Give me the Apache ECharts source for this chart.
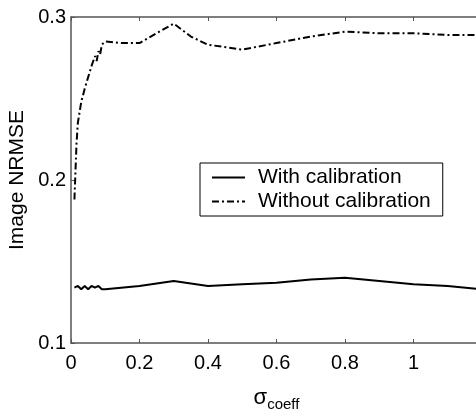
<!DOCTYPE html>
<html>
<head>
<meta charset="utf-8">
<script src="https://cdn.jsdelivr.net/npm/echarts@6/dist/echarts.min.js"></script>
<style>
  html, body { margin: 0; padding: 0; background: #fff; }
  #chart { width: 476px; height: 413px; }
</style>
</head>
<body>
<div id="chart"></div>
<script>
// values
var xWith = [0.01, 0.02, 0.03, 0.04, 0.05, 0.06, 0.07, 0.08, 0.09, 0.1, 0.2, 0.3, 0.4, 0.5, 0.6, 0.7, 0.8, 0.9, 1.0, 1.1, 1.2]
var yWith = [0.134, 0.135, 0.133, 0.135, 0.133, 0.135, 0.134, 0.135, 0.133, 0.133, 0.135, 0.138, 0.135, 0.136, 0.137, 0.139, 0.140, 0.138, 0.136, 0.135, 0.133]

var xWithout = [0.01, 0.013, 0.016, 0.02, 0.03, 0.04, 0.05, 0.06, 0.07, 0.075, 0.08, 0.085, 0.09, 0.1, 0.15, 0.2, 0.25, 0.3, 0.35, 0.4, 0.5, 0.6, 0.7, 0.8, 0.9, 1.0, 1.1, 1.2]
var yWithout = [0.188, 0.205, 0.222, 0.235, 0.248, 0.256, 0.263, 0.270, 0.276, 0.273, 0.279, 0.277, 0.283, 0.285, 0.284, 0.284, 0.290, 0.296, 0.288, 0.283, 0.280, 0.284, 0.288, 0.291, 0.290, 0.290, 0.289, 0.289]

var xTicks = [0, 0.2, 0.4, 0.6, 0.8, 1]
var yTicks = [0.1, 0.2, 0.3]

function pairs(xs, ys) {
  return xs.map(function (x, i) { return [x, ys[i]] })
}

var axisColor = '#555'
var font = 'Liberation Sans, Arial, sans-serif'

var chart = echarts.init(document.getElementById('chart'))
chart.setOption({
  animation: false,
  grid: { left: 71, top: 17, right: -6, bottom: 70, outerBoundsMode: 'none', containLabel: false },
  legend: {
    orient: 'vertical',
    left: 200,
    top: 163,
    padding: [4, 12, 4, 11],
    borderColor: '#000',
    borderWidth: 1,
    itemWidth: 33,
    itemHeight: 14,
    itemGap: 3,
    itemStyle: { opacity: 0 },
    textStyle: { fontFamily: font, fontSize: 21, color: '#000', padding: [0, 0, 0, 8] },
    data: ['With calibration', 'Without calibration']
  },
  xAxis: [{
    type: 'value',
    min: 0, max: 1.2, interval: 0.2,
    name: '{s|σ}{sub|coeff}',
    nameLocation: 'middle',
    nameGap: 40,
    nameTextStyle: {
      rich: {
        s: { fontFamily: font, fontSize: 22, color: '#000' },
        sub: { fontFamily: font, fontSize: 15, color: '#000', padding: [14, 0, 0, 0] }
      }
    },
    axisLine: { lineStyle: { color: axisColor, width: 1.5 } },
    axisTick: { inside: true, length: 4, lineStyle: { color: axisColor } },
    axisLabel: {
      fontFamily: font, fontSize: 20, color: '#000', margin: 10,
      showMaxLabel: false,
      formatter: function (v) { return xTicks.indexOf(v) >= 0 ? String(v) : '' }
    },
    splitLine: { show: false }
  }, {
    type: 'value',
    position: 'top',
    min: 0, max: 1.2, interval: 0.2,
    axisLine: { show: true, lineStyle: { color: axisColor, width: 1.5 } },
    axisTick: { inside: true, length: 4, lineStyle: { color: axisColor } },
    axisLabel: { show: false },
    splitLine: { show: false }
  }],
  yAxis: {
    type: 'value',
    min: 0.1, max: 0.3, interval: 0.1,
    name: 'Image NRMSE',
    nameLocation: 'middle',
    nameGap: 29,
    nameTextStyle: { fontFamily: font, fontSize: 21, color: '#000' },
    axisLine: { show: true, lineStyle: { color: axisColor, width: 1.5 } },
    axisTick: { inside: true, length: 4, lineStyle: { color: axisColor } },
    axisLabel: {
      fontFamily: font, fontSize: 20, color: '#000', margin: 5,
      formatter: function (v) { return yTicks.indexOf(Math.round(v * 10) / 10) >= 0 ? (Math.round(v * 10) / 10).toString() : '' }
    },
    splitLine: { show: false }
  },
  series: [{
    name: 'With calibration',
    type: 'line',
    data: pairs(xWith, yWith),
    showSymbol: false,
    symbol: 'none',
    lineStyle: { color: '#000', width: 2 },
    itemStyle: { color: '#000' }
  }, {
    name: 'Without calibration',
    type: 'line',
    data: pairs(xWithout, yWithout),
    showSymbol: false,
    symbol: 'none',
    lineStyle: { color: '#000', width: 2, type: [7, 3, 2, 3] },
    itemStyle: { color: '#000' }
  }]
})
</script>
</body>
</html>
